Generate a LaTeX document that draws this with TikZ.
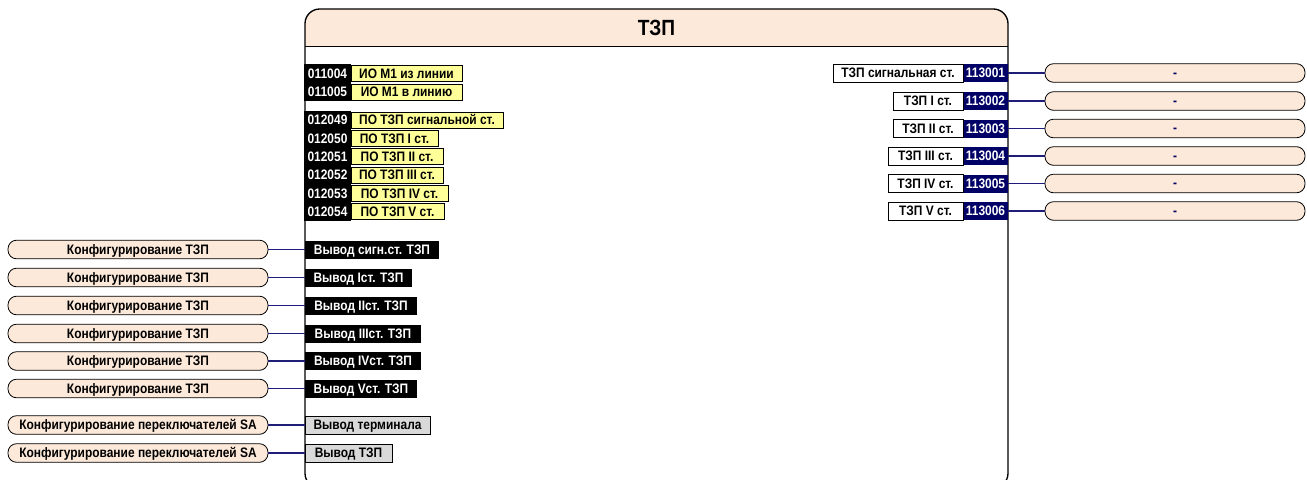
\documentclass[tikz,border=0pt]{standalone}
\usepackage{fontspec}
\setmainfont{Liberation Sans}[FakeStretch=0.87]
\usetikzlibrary{positioning}
\definecolor{peach}{RGB}{253,233,217}
\definecolor{lemon}{RGB}{255,255,153}
\definecolor{navy}{RGB}{0,0,102}
\definecolor{wire}{RGB}{30,30,120}
\definecolor{greybox}{RGB}{217,217,217}

\begin{document}
\begin{tikzpicture}[x=0.75pt,y=-0.75pt,
  every node/.style={font=\fontsize{10.3}{11}\selectfont\bfseries,inner sep=0pt,outer sep=0pt,text height=7.2pt,text depth=0pt},
  num/.style={fill=black,text=white,anchor=west,minimum width=35.25pt,minimum height=13.8pt},
  sig/.style={fill=lemon,draw=black,line width=0.6pt,right=0pt of #1,minimum height=12pt},
  vyvod/.style={fill=black,text=white,anchor=west,minimum height=13.5pt},
  vyvodg/.style={fill=greybox,draw=black,line width=0.6pt,anchor=west,minimum height=13.5pt},
  pill/.style={draw=black,fill=peach,line width=0.6pt,rounded corners=6.5pt,anchor=west,minimum width=195pt,minimum height=14pt},
  dash pill/.style={pill,text=navy,text height=6.2pt},
  outnum/.style={fill=navy,text=white,anchor=west,minimum width=33.75pt,minimum height=13.5pt},
  outlbl/.style={fill=white,draw=black,line width=0.6pt,left=0pt of #1,minimum height=13.5pt},
  link/.style={draw=wire,line width=0.8pt}]
\useasboundingbox (0,0) rectangle (1307,479);

% main block
\begin{scope}
\clip[rounded corners=11pt] (305,9) rectangle (1008,488);
\fill[peach] (305,9) rectangle (1008,46);
\end{scope}
\draw[line width=0.6pt] (305,46) -- (1008,46);
\draw[line width=1pt,rounded corners=11pt] (305,9) rectangle (1008,488);
\node (title) at (656.5,27.5) [font=\fontsize{16.5}{18}\selectfont\bfseries,text height=11.5pt] {ТЗП};

% inputs
\node (n011004) at (304,73.5) [num] {011004};
\node (n011005) at (304,92) [num] {011005};
\node (s011004) [sig=n011004,minimum width=83.25pt] {ИО М1 из линии};
\node (s011005) [sig=n011005,minimum width=83.25pt] {ИО М1 в линию};

\node (n012049) at (304,120) [num] {012049};
\node (n012050) at (304,138.3) [num] {012050};
\node (n012051) at (304,156.6) [num] {012051};
\node (n012052) at (304,174.9) [num] {012052};
\node (n012053) at (304,193.2) [num] {012053};
\node (n012054) at (304,211.5) [num] {012054};
\node (s012049) [sig=n012049,minimum width=114pt] {ПО ТЗП сигнальной ст.};
\node (s012050) [sig=n012050,minimum width=65.25pt] {ПО ТЗП I ст.};
\node (s012051) [sig=n012051,minimum width=69pt] {ПО ТЗП II ст.};
\node (s012052) [sig=n012052,minimum width=69pt] {ПО ТЗП III ст.};
\node (s012053) [sig=n012053,minimum width=72.75pt] {ПО ТЗП IV ст.};
\node (s012054) [sig=n012054,minimum width=69.75pt] {ПО ТЗП V ст.};

% outputs to the left
\node (v1) at (305,249.5) [vyvod,minimum width=100.5pt] {Вывод сигн.ст. ТЗП};
\node (v2) at (305,277.5) [vyvod,minimum width=80.25pt] {Вывод Iст. ТЗП};
\node (v3) at (305,305.5) [vyvod,minimum width=84pt] {Вывод IIст. ТЗП};
\node (v4) at (305,333.5) [vyvod,minimum width=87pt] {Вывод IIIст. ТЗП};
\node (v5) at (305,361) [vyvod,minimum width=87pt] {Вывод IVст. ТЗП};
\node (v6) at (305,388.5) [vyvod,minimum width=84pt] {Вывод Vст. ТЗП};
\node (v7) at (305,425) [vyvodg,minimum width=93.75pt] {Вывод терминала};
\node (v8) at (305,453) [vyvodg,minimum width=65.25pt] {Вывод ТЗП};

\node (p1) at (8,249.5) [pill] {Конфигурирование ТЗП};
\node (p2) at (8,277.5) [pill] {Конфигурирование ТЗП};
\node (p3) at (8,305.5) [pill] {Конфигурирование ТЗП};
\node (p4) at (8,333.5) [pill] {Конфигурирование ТЗП};
\node (p5) at (8,361) [pill] {Конфигурирование ТЗП};
\node (p6) at (8,388.5) [pill] {Конфигурирование ТЗП};
\node (p7) at (8,425) [pill] {Конфигурирование переключателей SA};
\node (p8) at (8,453) [pill] {Конфигурирование переключателей SA};
\draw[link] (p1.east) -- (v1.west);
\draw[link] (p2.east) -- (v2.west);
\draw[link] (p3.east) -- (v3.west);
\draw[link] (p4.east) -- (v4.west);
\draw[link] (p5.east) -- (v5.west);
\draw[link] (p6.east) -- (v6.west);
\draw[link] (p7.east) -- (v7.west);
\draw[link] (p8.east) -- (v8.west);

% outputs to the right
\node (o113001) at (963,73) [outnum] {113001};
\node (o113002) at (963,101) [outnum] {113002};
\node (o113003) at (963,128.5) [outnum] {113003};
\node (o113004) at (963,156) [outnum] {113004};
\node (o113005) at (963,183.5) [outnum] {113005};
\node (o113006) at (963,211) [outnum] {113006};
\node (l113001) [outlbl=o113001,minimum width=97.5pt] {ТЗП сигнальная ст.};
\node (l113002) [outlbl=o113002,minimum width=52.5pt] {ТЗП I ст.};
\node (l113003) [outlbl=o113003,minimum width=52.5pt] {ТЗП II ст.};
\node (l113004) [outlbl=o113004,minimum width=56.25pt] {ТЗП III ст.};
\node (l113005) [outlbl=o113005,minimum width=56.25pt] {ТЗП IV ст.};
\node (l113006) [outlbl=o113006,minimum width=56.25pt] {ТЗП V ст.};

\node (q1) at (1045,73) [dash pill] {-};
\node (q2) at (1045,101) [dash pill] {-};
\node (q3) at (1045,128.5) [dash pill] {-};
\node (q4) at (1045,156) [dash pill] {-};
\node (q5) at (1045,183.5) [dash pill] {-};
\node (q6) at (1045,211) [dash pill] {-};
\draw[link] (o113001.east) -- (q1.west);
\draw[link] (o113002.east) -- (q2.west);
\draw[link] (o113003.east) -- (q3.west);
\draw[link] (o113004.east) -- (q4.west);
\draw[link] (o113005.east) -- (q5.west);
\draw[link] (o113006.east) -- (q6.west);
\end{tikzpicture}
\end{document}
